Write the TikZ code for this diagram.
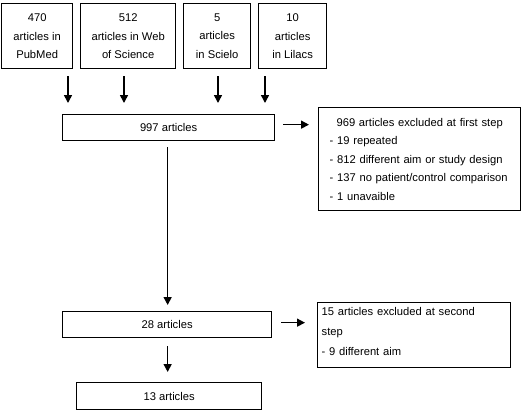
\documentclass[tikz,border=0pt]{standalone}
\usepackage{fontspec}
\setmainfont{Liberation Sans}
\usetikzlibrary{arrows.meta}
\begin{document}
\begin{tikzpicture}[x=1pt,y=-1pt,
  box/.style={draw,line width=1.3pt,anchor=north west,inner sep=0pt,font=\fontsize{11.2}{18.5}\selectfont},
  arr/.style={line width=1.5pt,-{Triangle[length=8pt,width=8pt]}}]
\useasboundingbox (0,0) rectangle (521,410);
% sources
\node[box,minimum width=71,minimum height=65,align=center] (pub) at (1,3) {470\\articles in\\PubMed};
\node[box,minimum width=95,minimum height=65,align=center] (wos) at (80,3) {512\\articles in Web\\of Science};
\node[box,minimum width=67,minimum height=65,align=center] (sci) at (183,3) {5\\articles\\in Scielo};
\node[box,minimum width=68,minimum height=65,align=center] (lil) at (258,3) {10\\articles\\in Lilacs};
% main chain
\node[box,minimum width=212,minimum height=26] (n997) at (62,114) {997 articles};
\node[box,minimum width=209,minimum height=26] (n28) at (62,311) {28 articles};
\node[box,minimum width=185,minimum height=27] (n13) at (76,382) {13 articles};
% exclusions
\node[box,text width=180,inner xsep=11,minimum height=103,align=left] (ex1) at (318,107)
  {\makebox[180pt][c]{969 articles excluded at first step}\\- 19 repeated\\- 812 different aim or study design\\- 137 no patient/control comparison\\- 1 unavaible};
\node[box,text width=185,inner xsep=4,minimum height=65,text depth=47pt,align=left,font=\fontsize{11.2}{20}\selectfont] (ex2) at (317,302)
  {15 articles excluded at second\\step\\- 9 different aim};
% free arrows from sources
\coordinate (s1) at (68,76);  \coordinate (e1) at (68,103);
\coordinate (s2) at (124,76); \coordinate (e2) at (124,103);
\coordinate (s3) at (218,76); \coordinate (e3) at (218,103);
\coordinate (s4) at (265,76); \coordinate (e4) at (265,103);
\draw[arr] (s1) -- (e1);
\draw[arr] (s2) -- (e2);
\draw[arr] (s3) -- (e3);
\draw[arr] (s4) -- (e4);
% connectors
\draw[arr,shorten <=6pt,shorten >=6pt] ([xshift=-1pt]n997.south) -- ([xshift=-1pt]n997.south |- n28.north);
\draw[arr,shorten <=8pt,shorten >=10pt] ([xshift=0.5pt]n28.south) -- ([xshift=0.5pt]n28.south |- n13.north);
\draw[arr,shorten <=8pt,shorten >=9pt] ([yshift=3pt]n997.east) -- ([yshift=3pt]n997.east -| ex1.west);
\draw[arr,shorten <=9pt,shorten >=12pt] ([yshift=2pt]n28.east) -- ([yshift=2pt]n28.east -| ex2.west);
\end{tikzpicture}
\end{document}
